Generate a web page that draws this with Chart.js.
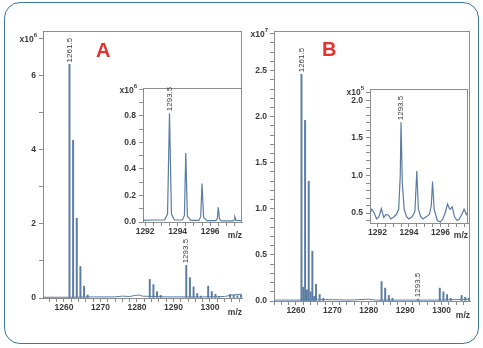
<!DOCTYPE html>
<html>
<head>
<meta charset="utf-8">
<script src="https://cdn.jsdelivr.net/npm/chart.js@4.4.1/dist/chart.umd.min.js"></script>
<style>
  body { margin: 0; background: #fff; }
  #page { position: relative; width: 483px; height: 348px; overflow: hidden; }
  .frame { position: absolute; left: 4px; top: 2px; width: 473px; height: 340px;
           border: 1px solid #3b7896; border-radius: 16px; }
  .box { position: absolute; }
  .tag { position: absolute; font: bold 20px "Liberation Sans", Arial, sans-serif;
         color: #e2332f; line-height: 1; }
</style>
</head>
<body>
<div id="page">
  <div class="frame"></div>
  <div class="box" style="left:0;top:0;width:250px;height:330px"><canvas id="mainA"></canvas></div>
  <div class="box" style="left:231px;top:0;width:245px;height:330px"><canvas id="mainB"></canvas></div>
  <div class="box" style="left:100px;top:70px;width:150px;height:180px"><canvas id="zoomA"></canvas></div>
  <div class="box" style="left:327px;top:70px;width:150px;height:180px"><canvas id="zoomB"></canvas></div>
  <div class="tag" style="left:96px;top:40px">A</div>
  <div class="tag" style="left:322px;top:39px">B</div>
</div>
<script>
// Panel A, full scan (intensity x10^6)
const mzA  = [1261.5, 1262.5, 1263.5, 1264.5, 1265.5, 1266.5, 1283.5, 1284.5, 1285.5, 1286.5,
              1293.5, 1294.5, 1295.5, 1296.5, 1297.5, 1299.5, 1300.5, 1301.5, 1302.5,
              1305.5, 1306.5, 1307.5, 1308.5];
const intA = [6.3, 4.25, 2.15, 0.85, 0.32, 0.08, 0.5, 0.36, 0.17, 0.07,
              0.88, 0.55, 0.3, 0.12, 0.05, 0.32, 0.17, 0.1, 0.04,
              0.1, 0.07, 0.06, 0.08];
const baseMzA  = [1254.3, 1260, 1268, 1274, 1276, 1278, 1279.5, 1280.5, 1281.5, 1288, 1298, 1304, 1306, 1308.7];
const baseIntA = [0.02, 0.02, 0.03, 0.03, 0.05, 0.04, 0.07, 0.08, 0.05, 0.03, 0.03, 0.04, 0.08, 0.1];

// Panel A, zoom on 1293.5 (intensity x10^6)
const zoomMzA  = [1291.87, 1292.5, 1293.2, 1293.38, 1293.5, 1293.62, 1293.8, 1294.3, 1294.42, 1294.5,
                  1294.6, 1294.8, 1295.3, 1295.42, 1295.5, 1295.6, 1295.8, 1296.35, 1296.44, 1296.5,
                  1296.58, 1296.7, 1297.4, 1297.47, 1297.52, 1297.6, 1297.96];
const zoomIntA = [0.012, 0.015, 0.015, 0.06, 0.82, 0.06, 0.015, 0.015, 0.05, 0.52,
                  0.045, 0.012, 0.012, 0.04, 0.29, 0.035, 0.01, 0.01, 0.025, 0.11,
                  0.02, 0.008, 0.008, 0.015, 0.04, 0.012, 0.01];

// Panel B, full scan (intensity x10^7)
const mzB  = [1261.5, 1262.0, 1262.5, 1263.0, 1263.5, 1264.0, 1264.5, 1265.0, 1265.5, 1266.5, 1267.5,
              1283.5, 1284.5, 1285.5, 1286.5, 1293.5, 1299.5, 1300.5, 1301.5, 1302.5,
              1305.5, 1306.5, 1307.5];
const intB = [2.46, 0.15, 1.96, 0.12, 1.3, 0.1, 0.54, 0.05, 0.18, 0.07, 0.03,
              0.21, 0.14, 0.06, 0.03, 0.02, 0.14, 0.1, 0.07, 0.03,
              0.06, 0.04, 0.03];
const baseMzB  = [1254, 1260, 1268, 1275, 1280, 1282, 1288, 1298, 1304, 1307.8];
const baseIntB = [0.01, 0.01, 0.015, 0.01, 0.02, 0.01, 0.01, 0.01, 0.015, 0.02];

// Panel B, zoom on 1293.5 (intensity x10^5)
const zoomMzB  = [1291.53, 1291.65, 1291.8, 1291.95, 1292.1, 1292.25, 1292.4, 1292.55, 1292.7, 1292.85,
                  1293.0, 1293.2, 1293.35, 1293.45, 1293.5, 1293.58, 1293.7, 1293.85, 1294.0, 1294.2,
                  1294.38, 1294.5, 1294.6, 1294.75, 1294.9, 1295.1, 1295.3, 1295.42, 1295.5, 1295.6,
                  1295.8, 1296.0, 1296.15, 1296.3, 1296.45, 1296.6, 1296.75, 1296.9, 1297.05, 1297.2,
                  1297.35, 1297.5, 1297.65, 1297.75];
const zoomIntB = [0.5, 0.55, 0.5, 0.42, 0.45, 0.56, 0.44, 0.48, 0.47, 0.42,
                  0.44, 0.48, 0.55, 1.0, 1.71, 0.9, 0.55, 0.45, 0.42, 0.45,
                  0.52, 1.06, 0.55, 0.45, 0.42, 0.45, 0.48, 0.6, 0.92, 0.55,
                  0.4, 0.38, 0.42, 0.5, 0.62, 0.55, 0.58, 0.45, 0.4, 0.42,
                  0.48, 0.55, 0.48, 0.52];

const labelledA = [1261.5, 1293.5];
const labelledB = [1261.5, 1293.5];
const labelledZoom = [1293.5];

const FAMILY = '"Liberation Sans", Arial, sans-serif';
const AXIS = '#8c8c8c';
const TEXT = '#3a3a3a';
const TRACE = '#5a7ca4';

const pts = (xs, ys) => xs.map((x, i) => ({ x: x, y: ys[i] }));
const near = (v, step) => Math.abs(v / step - Math.round(v / step)) < 1e-6;
const clip = s => { s.ticks = s.ticks.filter(t => t.value >= s.min - 1e-9 && t.value <= s.max + 1e-9); };

// frame top/right edges, the x10^n multiplier, m/z caption and rotated peak labels
const decor = {
  id: 'decor',
  beforeDraw(chart, args, o) {
    if (!o.fill) return;
    const a = chart.chartArea, ctx = chart.ctx;
    ctx.save();
    ctx.fillStyle = '#fff';
    ctx.fillRect(a.left, a.top, a.right - a.left, a.bottom - a.top);
    ctx.restore();
  },
  afterDraw(chart, args, o) {
    const { ctx, chartArea: a, scales } = chart;
    ctx.save();
    ctx.strokeStyle = AXIS;
    ctx.lineWidth = 1;
    ctx.beginPath();
    ctx.moveTo(a.left, a.top + 0.5);
    ctx.lineTo(a.right, a.top + 0.5);
    ctx.moveTo(a.right - 0.5, a.top);
    ctx.lineTo(a.right - 0.5, o.rightEnd || a.bottom);
    ctx.stroke();

    ctx.fillStyle = TEXT;
    ctx.textAlign = 'right';
    ctx.textBaseline = 'middle';
    const my = scales.y.getPixelForValue(o.multAt);
    const xr = a.left - 6;
    ctx.font = 'bold 6px ' + FAMILY;
    const ew = ctx.measureText(o.exp).width;
    ctx.fillText(o.exp, xr, my - 3);
    ctx.font = 'bold 8.5px ' + FAMILY;
    ctx.fillText('x10', xr - ew, my + 1);
    ctx.fillText('m/z', a.right, a.bottom + o.mzGap);

    ctx.font = '8px ' + FAMILY;
    ctx.textAlign = 'left';
    const data = chart.data.datasets[0].data;
    o.peaks.forEach(v => {
      const h = Math.max(...data.filter(p => Math.abs(p.x - v) < 1e-6).map(p => p.y));
      const px = scales.x.getPixelForValue(v);
      const py = scales.y.getPixelForValue(h) - 2;
      ctx.save();
      ctx.translate(px, py);
      ctx.rotate(-Math.PI / 2);
      ctx.fillText(v.toFixed(1), 0, 0);
      ctx.restore();
    });
    ctx.restore();
  }
};

function axes(x, y) {
  const font = { family: FAMILY, size: 8.5, weight: 'bold' };
  return {
    x: {
      type: 'linear', min: x.min, max: x.max, offset: false,
      border: { color: AXIS },
      grid: { drawOnChartArea: false, offset: false, tickLength: 4, color: AXIS },
      ticks: { stepSize: x.step, includeBounds: false, autoSkip: false, maxRotation: 0, minRotation: 0,
               padding: 1, color: TEXT, font: font, callback: x.label },
      afterBuildTicks: clip,
      afterFit: s => { s.height = x.height; }
    },
    y: {
      type: 'linear', min: y.min, max: y.max,
      border: { color: AXIS },
      grid: { drawOnChartArea: false, tickLength: 4, color: AXIS },
      ticks: { stepSize: y.step, includeBounds: false, autoSkip: false, padding: 3,
               color: TEXT, font: font, callback: y.label },
      afterBuildTicks: clip,
      afterFit: s => { s.width = 43; }
    }
  };
}

function fullScan(id, mz, ints, baseMz, baseInts, x, y, pad, deco) {
  new Chart(document.getElementById(id), {
    type: 'bar',
    data: {
      datasets: [
        { type: 'bar', data: pts(mz, ints), backgroundColor: TRACE, barThickness: 1.3 },
        { type: 'line', data: pts(baseMz, baseInts), borderColor: TRACE, borderWidth: 1,
          pointRadius: 0, tension: 0 }
      ]
    },
    options: {
      animation: false, responsive: true, maintainAspectRatio: false,
      layout: { padding: pad },
      plugins: { legend: { display: false }, tooltip: { enabled: false }, decor: deco },
      scales: axes(x, y)
    },
    plugins: [decor]
  });
}

function zoomScan(id, mz, ints, x, y, pad, deco) {
  new Chart(document.getElementById(id), {
    type: 'line',
    data: {
      datasets: [{ data: pts(mz, ints), borderColor: TRACE, borderWidth: 1.2, pointRadius: 0, tension: 0 }]
    },
    options: {
      animation: false, responsive: true, maintainAspectRatio: false,
      layout: { padding: pad },
      plugins: { legend: { display: false }, tooltip: { enabled: false }, decor: deco },
      scales: axes(x, y)
    },
    plugins: [decor]
  });
}

const tens = v => near(v, 10) ? String(Math.round(v)) : '';
const evens = v => near(v, 2) ? String(Math.round(v)) : '';

fullScan('mainA', mzA, intA, baseMzA, baseIntA,
  { min: 1254.25, max: 1308.77, step: 2, label: tens, height: 20 },
  { min: 0, max: 7.2, step: 1, label: v => (near(v, 2) && v < 7) ? String(v) : '' },
  { left: 0, top: 31, right: 8, bottom: 12 },
  { rightEnd: 88, multAt: 7, exp: '6', mzGap: 15, peaks: labelledA });

fullScan('mainB', mzB, intB, baseMzB, baseIntB,
  { min: 1253.96, max: 1307.8, step: 2, label: tens, height: 20 },
  { min: 0, max: 2.93, step: 0.1, label: v => near(v, 0.5) ? v.toFixed(1) : '' },
  { left: 0, top: 31, right: 6, bottom: 9 },
  { multAt: 2.9, exp: '7', mzGap: 15, peaks: labelledB });

zoomScan('zoomA', zoomMzA, zoomIntA,
  { min: 1291.87, max: 1297.96, step: 0.5, label: evens, height: 18 },
  { min: 0, max: 1.01, step: 0.1, label: v => (near(v, 0.2) && v < 0.95) ? v.toFixed(1) : '' },
  { left: 0, top: 18, right: 8, bottom: 10 },
  { fill: true, multAt: 1.0, exp: '6', mzGap: 14, peaks: labelledZoom });

zoomScan('zoomB', zoomMzB, zoomIntB,
  { min: 1291.53, max: 1297.75, step: 0.5, label: evens, height: 18 },
  { min: 0.367, max: 2.153, step: 0.1, label: v => near(v, 0.5) ? v.toFixed(1) : '' },
  { left: 0, top: 19, right: 9, bottom: 9 },
  { fill: true, multAt: 2.12, exp: '5', mzGap: 13, peaks: labelledZoom });
</script>
</body>
</html>
